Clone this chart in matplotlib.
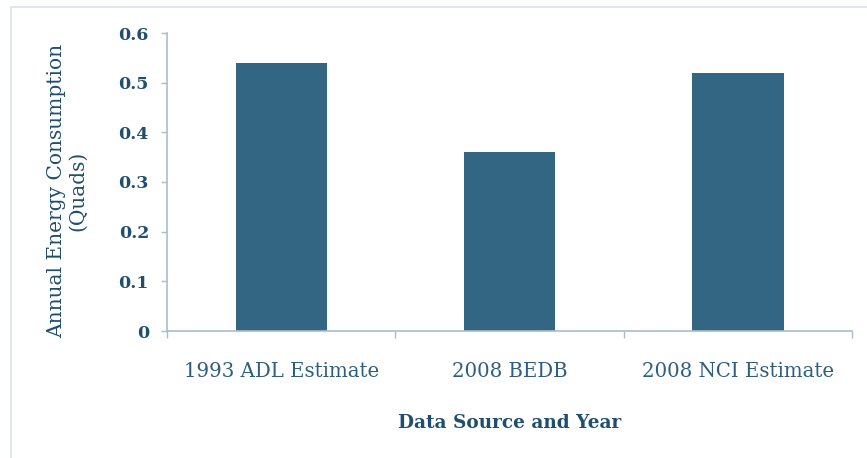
import matplotlib
matplotlib.use("Agg")
import matplotlib.pyplot as plt
from matplotlib.patches import Rectangle

# data source labels and consumption in quads
sources = ["1993 ADL Estimate", "2008 BEDB", "2008 NCI Estimate"]
consumption = [0.54, 0.36, 0.52]
yticks = [0, 0.1, 0.2, 0.3, 0.4, 0.5, 0.6]

bar_color = "#336683"
text_color = "#1F4E6E"
tick_color = "#2F5F80"
axis_color = "#A9BCCB"

plt.rcParams["font.family"] = "DejaVu Serif"

fig = plt.figure(figsize=(8.67, 4.58), dpi=100)
ax = fig.add_axes([167/867, 1 - 331/458, 685/867, 298/458])

x = range(len(sources))
ax.bar(x, consumption, width=0.4, color=bar_color)

ax.set_xlim(-0.5, 2.5)
ax.set_ylim(0, 0.6)
ax.set_yticks(yticks)
ax.set_yticklabels(["0" if v == 0 else "%.1f" % v for v in yticks],
                   fontweight="bold", fontsize=12.5, color=text_color)

ax.set_xticks(list(x))
ax.set_xticklabels(sources, fontsize=14.2, color=tick_color)
ax.set_xticks([-0.5, 0.5, 1.5, 2.5], minor=True)
ax.tick_params(axis="x", which="major", length=0, pad=22)
ax.tick_params(axis="x", which="minor", length=5, width=1, color=axis_color, direction="out")
ax.tick_params(axis="y", length=4, width=1, color=axis_color, pad=9)

for side in ["top", "right"]:
    ax.spines[side].set_visible(False)
for side in ["left", "bottom"]:
    ax.spines[side].set_color(axis_color)
    ax.spines[side].set_linewidth(1.2)

ax.set_ylabel("Annual Energy Consumption\n(Quads)", fontsize=14.5,
              color=text_color, linespacing=1.1)
ax.yaxis.set_label_coords(-0.117, 0.47)
ax.set_xlabel("Data Source and Year", fontsize=13.3, fontweight="bold",
              color=text_color)
ax.xaxis.set_label_coords(0.5, -0.28)

# light frame around the chart
fig.patches.append(Rectangle((11/867, -0.01), 1.0, 1 - 7/458 + 0.01,
                             transform=fig.transFigure, fill=False,
                             edgecolor="#DCE3EA", linewidth=1.2))

fig.savefig("out.png", dpi=100)
